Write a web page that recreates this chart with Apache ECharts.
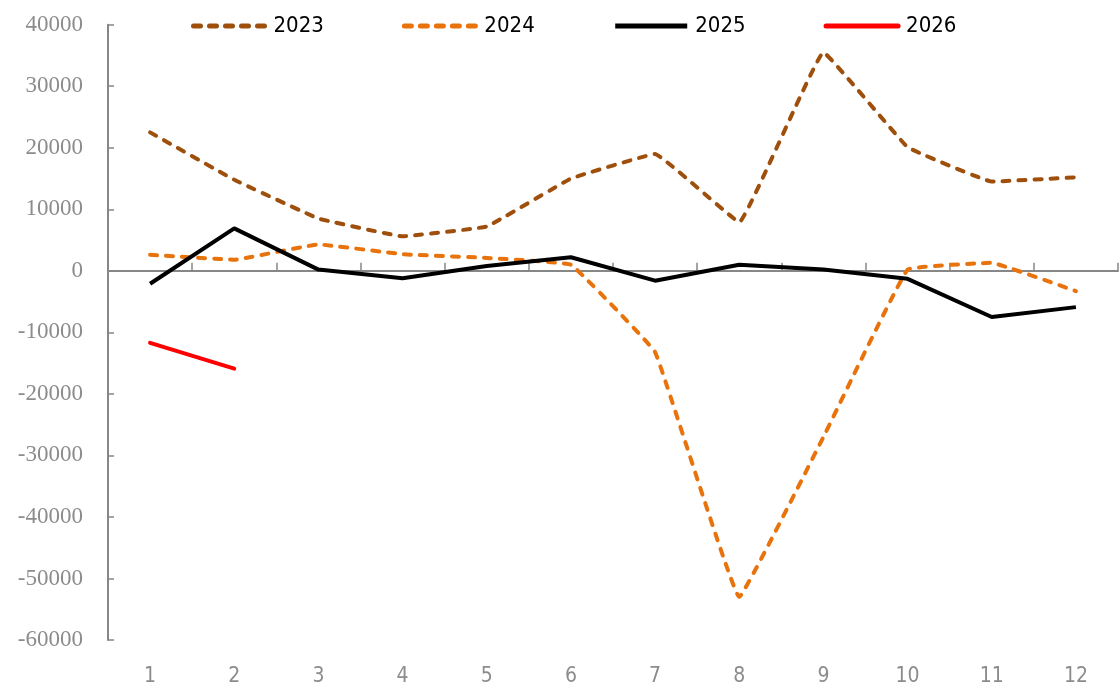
<!DOCTYPE html>
<html>
<head>
<meta charset="utf-8">
<script src="https://cdn.jsdelivr.net/npm/echarts@6/dist/echarts.min.js"></script>
<style>
  html, body { margin: 0; padding: 0; background: #fff; }
  #chart { width: 1120px; height: 687px; }
</style>
</head>
<body>
<div id="chart"></div>
<script>
// Month labels on the category axis
const months = ['1', '2', '3', '4', '5', '6', '7', '8', '9', '10', '11', '12'];

// Monthly values per year
const v2023 = [22500, 14800, 8500, 5600, 7200, 15000, 19000, 7900, 35500, 20100, 14500, 15200];
const v2024 = [2600, 1800, 4300, 2700, 2100, 1000, -13200, -53000, -27000, 200, 1300, -3300];
const v2025 = [-2100, 6900, 200, -1200, 800, 2200, -1600, 1000, 200, -1300, -7500, -5900];
const v2026 = [-11700, -15900];

// Value axis range
const yMin = -60000;
const yMax = 40000;
const yStep = 10000;

const axisGray = '#878787';
const labelGray = '#8c8c8c';
const narrowFont = '"Liberation Sans Narrow", "DejaVu Sans Condensed", sans-serif';

const chart = echarts.init(document.getElementById('chart'), null, { renderer: 'canvas' });

chart.setOption({
  animation: false,
  backgroundColor: '#ffffff',
  grid: { left: 108, right: 2, top: 24.7, bottom: 46.3, containLabel: false },
  legend: {
    left: 186,
    top: 10,
    itemWidth: 72,
    itemHeight: 14,
    itemGap: 78,
    itemStyle: { opacity: 0 },
    lineStyle: { width: 5 },
    textStyle: { fontFamily: narrowFont, fontSize: 22, color: '#000', padding: [0, 0, 0, 3] },
    data: ['2023', '2024', '2025', '2026']
  },
  xAxis: [
    {
      // zero line with month dividers
      type: 'category',
      data: months,
      boundaryGap: true,
      axisLine: { onZero: true, lineStyle: { color: axisGray, width: 2 } },
      axisTick: { show: true, inside: true, length: 8, lineStyle: { color: axisGray, width: 1.5 } },
      axisLabel: { show: false },
      splitLine: { show: false }
    },
    {
      // month labels along the bottom
      type: 'category',
      data: months,
      position: 'bottom',
      boundaryGap: true,
      axisLine: { show: false, onZero: false },
      axisTick: { show: false },
      axisLabel: { show: true, margin: 26, fontFamily: narrowFont, fontSize: 21, color: labelGray },
      splitLine: { show: false }
    }
  ],
  yAxis: {
    type: 'value',
    min: yMin,
    max: yMax,
    interval: yStep,
    axisLine: { show: true, lineStyle: { color: axisGray, width: 2 } },
    axisTick: { show: true, inside: true, length: 6, lineStyle: { color: axisGray, width: 1.5 } },
    axisLabel: {
      margin: 25,
      fontFamily: '"Liberation Serif", "DejaVu Serif", serif',
      fontSize: 23,
      color: labelGray,
      formatter: (v) => String(v)
    },
    splitLine: { show: false }
  },
  series: [
    {
      name: '2023', type: 'line', data: v2023, xAxisIndex: 0,
      symbol: 'none', smooth: 0.06,
      lineStyle: { color: '#9e4f0c', width: 4, type: [7, 9], cap: 'round' },
      itemStyle: { color: '#9e4f0c' }
    },
    {
      name: '2024', type: 'line', data: v2024, xAxisIndex: 0,
      symbol: 'none', smooth: 0.06,
      lineStyle: { color: '#e8720c', width: 4, type: [7, 9], cap: 'round' },
      itemStyle: { color: '#e8720c' }
    },
    {
      name: '2025', type: 'line', data: v2025, xAxisIndex: 0,
      symbol: 'none',
      lineStyle: { color: '#000000', width: 4 },
      itemStyle: { color: '#000000' }
    },
    {
      name: '2026', type: 'line', data: v2026, xAxisIndex: 0,
      symbol: 'none',
      lineStyle: { color: '#ff0000', width: 4, cap: 'round' },
      itemStyle: { color: '#ff0000' }
    }
  ]
});
</script>
</body>
</html>
